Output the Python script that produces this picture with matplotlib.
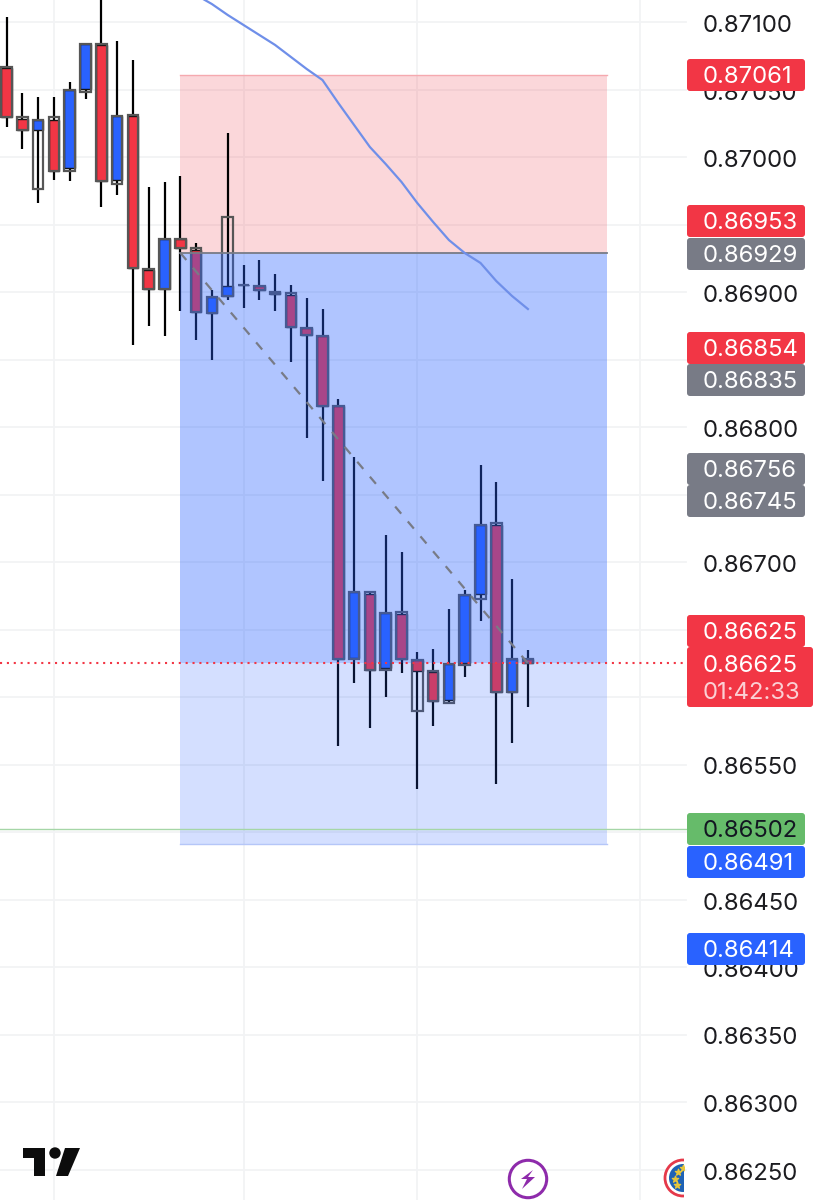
import matplotlib
matplotlib.use("Agg")
import matplotlib.pyplot as plt
from matplotlib.patches import Rectangle, FancyBboxPatch, Circle, Polygon
from matplotlib.transforms import ScaledTranslation

plt.rcParams["font.family"] = ["Inter", "DejaVu Sans"]

# candle values, left to right
highs = [0.871037, 0.870474, 0.870444, 0.870444, 0.870556, 0.870844, 0.871250, 0.870859, 0.870719, 0.869778,
         0.869815, 0.869859, 0.869363, 0.869015, 0.870178, 0.869200, 0.869237, 0.869133, 0.869052, 0.868956,
         0.868874, 0.868207, 0.867778, 0.866778, 0.867200, 0.867074, 0.866333, 0.866356, 0.866652, 0.866793,
         0.867719, 0.867593, 0.866874, 0.866348]
lows = [0.870222, 0.870059, 0.869659, 0.869830, 0.869822, 0.870430, 0.869630, 0.869719, 0.868607, 0.868748,
        0.868674, 0.868859, 0.868644, 0.868496, 0.868941, 0.868881, 0.868941, 0.868859, 0.868481, 0.867919,
        0.867600, 0.865637, 0.866104, 0.865770, 0.866000, 0.866178, 0.865319, 0.865785, 0.865956, 0.866148,
        0.866563, 0.865356, 0.865659, 0.865926]
# coloured body
fill_hi = [0.870659, 0.870281, 0.870274, 0.870274, 0.870496, 0.870837, 0.870830, 0.870304, 0.870304, 0.869163,
           0.869393, 0.869393, 0.869311, 0.868963, 0.869044, 0.869052, 0.869044, 0.869000, 0.868978, 0.868733,
           0.868674, 0.868156, 0.866778, 0.866763, 0.866622, 0.866615, 0.866274, 0.866185, 0.866244, 0.866756,
           0.867274, 0.867274, 0.866281, 0.866281]
fill_lo = [0.870296, 0.870200, 0.870200, 0.869896, 0.869919, 0.870504, 0.869822, 0.869830, 0.869178, 0.869022,
           0.869022, 0.869326, 0.868852, 0.868844, 0.868970, 0.869052, 0.869015, 0.868985, 0.868741, 0.868681,
           0.868156, 0.866281, 0.866289, 0.866200, 0.866215, 0.866281, 0.866193, 0.865970, 0.865978, 0.866252,
           0.866763, 0.866037, 0.866037, 0.866252]
# second candle series, only its outline shows
outline_hi = [0.870667, 0.870296, 0.870274, 0.870296, 0.870496, 0.870837, 0.870837, 0.870304, 0.870311, 0.869170,
              0.869393, 0.869393, 0.869326, 0.868963, 0.869556, 0.869052, 0.869044, 0.869000, 0.868993, 0.868733,
              0.868674, 0.868156, 0.866778, 0.866778, 0.866622, 0.866630, 0.866274, 0.866193, 0.866244, 0.866756,
              0.867274, 0.867289, 0.866281, 0.866281]
outline_lo = [0.870296, 0.870200, 0.869763, 0.869896, 0.869896, 0.870481, 0.869822, 0.869800, 0.869178, 0.869022,
              0.869022, 0.869326, 0.868852, 0.868844, 0.868970, 0.869052, 0.869015, 0.868985, 0.868741, 0.868681,
              0.868156, 0.866281, 0.866281, 0.866200, 0.866200, 0.866281, 0.865896, 0.865970, 0.865956, 0.866237,
              0.866726, 0.866037, 0.866037, 0.866252]
# r = red body, b = blue body
kinds = list("rrbrbbrbrrbrrbbbrrrrrrbrbrrrbbbrbr")

ma_idx = list(range(12, 34))
ma_vals = [0.871200, 0.871133, 0.871052, 0.870978, 0.870904, 0.870830, 0.870741, 0.870652, 0.870570, 0.870400,
           0.870237, 0.870074, 0.869948, 0.869815, 0.869659, 0.869519, 0.869385, 0.869289, 0.869215, 0.869081,
           0.868970, 0.868874]

stop_price = 0.87061
entry_price = 0.86929
last_price = 0.86625
target_price = 0.86491
green_price = 0.86502
pos_start = 11
pos_end = 38
last_idx = 33

y_ticks = [0.871, 0.8705, 0.87, 0.8695, 0.869, 0.8685, 0.868, 0.8675, 0.867, 0.8665, 0.866, 0.8655, 0.865,
           0.8645, 0.864, 0.8635, 0.863, 0.8625]
grid_idx = [3, 15, 26, 40.1]

tag_texts = ["0.87061", "0.86953", "0.86929", "0.86854", "0.86835", "0.86756", "0.86745", "0.86625",
             "0.86502", "0.86491", "0.86414"]
tag_kinds = ["red", "red", "gray", "red", "gray", "gray", "gray", "red", "green", "blue", "blue"]
tag_y_px = [75, 221, 254, 348, 380, 469, 501, 631, 829, 862, 949]

RED = "#f23645"
BLUE = "#2962ff"
GRID = "#f2f3f5"
FONT_SIZE = 17.2
tag_colors = {"red": RED, "gray": "#787b86", "green": "#66bb6a", "blue": BLUE}

W, H = 822, 1200
PX_X0, PX_STEP = 6.5, 15.8


def main():
    fig = plt.figure(figsize=(W / 100, H / 100), dpi=100, facecolor="white")
    ax = fig.add_axes([0, 0, 1, 1])
    ax.set_xlim(-PX_X0 / PX_STEP, (W - PX_X0) / PX_STEP)
    ax.set_ylim(0.87 - (H - 157) / 135000, 0.87 + 157 / 135000)
    for s in ax.spines.values():
        s.set_visible(False)
    ax.set_xticks([])

    ax.yaxis.tick_right()
    ax.set_yticks(y_ticks)
    ax.set_yticklabels([f"{t:.5f}" for t in y_ticks])
    ax.tick_params(axis="y", length=0, pad=-85.7, labelsize=FONT_SIZE, labelcolor="#1c1c20")
    nudge = ScaledTranslation(0, -1.5 / 100, fig.dpi_scale_trans)
    for tick in ax.yaxis.get_major_ticks():
        tick.label2.set_transform(tick.label2.get_transform() + nudge)

    line_end = 686 / W
    for t in y_ticks:
        ax.axhline(t, xmax=line_end, color=GRID, lw=1.3, zorder=1)
    for g in grid_idx:
        ax.axvline(g, color=GRID, lw=1.3, zorder=1)

    # short position box, red part under the candles
    ax.add_patch(Rectangle((pos_start, entry_price), pos_end - pos_start, stop_price - entry_price,
                           fc="#ee3a48", alpha=0.2, ec="none", zorder=2))
    ax.plot([pos_start, pos_end], [stop_price, stop_price], color="#f5a9af", lw=1, zorder=2)

    for i in range(len(highs)):
        ax.plot([i, i], [lows[i], highs[i]], color="black", lw=1.6, zorder=3, solid_capstyle="butt")
        c = RED if kinds[i] == "r" else BLUE
        ax.add_patch(Rectangle((i - 0.33, fill_lo[i]), 0.66, fill_hi[i] - fill_lo[i],
                               fc=c, ec="#141414", lw=1.0, zorder=4))
        ax.add_patch(Rectangle((i - 0.33, outline_lo[i]), 0.66, outline_hi[i] - outline_lo[i],
                               fc="none", ec="#565656", lw=1.6, zorder=5))

    # blue part sits on top of the candles, so red bodies turn purple
    ax.add_patch(Rectangle((pos_start, last_price), pos_end - pos_start, entry_price - last_price,
                           fc=BLUE, alpha=0.37, ec="none", zorder=6))
    ax.add_patch(Rectangle((pos_start, target_price), pos_end - pos_start, last_price - target_price,
                           fc=BLUE, alpha=0.2, ec="none", zorder=6))
    ax.plot([pos_start, pos_end], [target_price, target_price], color="#b5c6f8", lw=1, zorder=6)
    ax.plot([pos_start, pos_end], [entry_price, entry_price], color="#787b86", lw=1.3, zorder=7)
    ax.plot([pos_start, last_idx], [entry_price, last_price], color="#787b86", lw=1.6,
            dashes=(4.2, 4.6), zorder=7)

    ax.axhline(green_price, xmax=line_end, color="#a5d6a7", lw=1.0, zorder=7)
    ax.axhline(last_price, xmax=line_end, color=RED, lw=1.5, dashes=(1, 2.3), zorder=8)
    ax.plot(ma_idx, ma_vals, color="#6f8fe9", lw=1.6, zorder=7)

    # price tags and logos are placed in screen pixels
    ov = fig.add_axes([0, 0, 1, 1], zorder=5)
    ov.set_xlim(0, W)
    ov.set_ylim(H, 0)
    ov.axis("off")

    for txt, k, y in zip(tag_texts, tag_kinds, tag_y_px):
        ov.add_patch(FancyBboxPatch((687, y - 16), 118, 32, boxstyle="round,pad=0,rounding_size=3",
                                    fc=tag_colors[k], ec="none"))
        ov.text(703, y + 2, txt, color="#131722" if k == "green" else "white", fontsize=FONT_SIZE,
                va="center", ha="left")

    ov.add_patch(FancyBboxPatch((687, 647), 126, 60, boxstyle="round,pad=0,rounding_size=3", fc=RED, ec="none"))
    ov.text(703, 666, "0.86625", color="white", fontsize=FONT_SIZE, va="center", ha="left")
    ov.text(703, 693, "01:42:33", color="#fbd0d4", fontsize=FONT_SIZE, va="center", ha="left")

    # TradingView logo
    ov.add_patch(Polygon([(23, 1148), (45, 1148), (45, 1176), (34, 1176), (34, 1158), (23, 1158)], fc="#0c0c0c"))
    ov.add_patch(Circle((55, 1153), 5.7, fc="#0c0c0c"))
    ov.add_patch(Polygon([(65, 1148), (80, 1148), (68, 1176), (56, 1176)], fc="#0c0c0c"))

    # bolt icon
    ov.add_patch(Circle((528, 1179), 18.7, fc="white", ec="#8e2bab", lw=2.2))
    ov.add_patch(Polygon([(533, 1170), (521, 1179), (527, 1179), (522, 1189), (535, 1177), (528, 1177)],
                         fc="#8e2bab"))

    # flag icon cut off by the price scale
    clip = Rectangle((600, 1140), 84, 60, transform=ov.transData)
    flag_ring = Circle((683, 1178), 18, fc="white", ec="#e5394a", lw=2)
    flag_blue = Circle((683, 1178), 14, fc="#1f62b5", ec="none")
    ov.add_patch(flag_ring)
    ov.add_patch(flag_blue)
    flag_ring.set_clip_path(clip)
    flag_blue.set_clip_path(clip)
    stars = ov.scatter([678, 675, 677, 683], [1172, 1179, 1185, 1168], marker="*", s=22, color="#e8c63a", zorder=4)
    stars.set_clip_path(clip)

    fig.savefig("out.png", dpi=100)
    plt.close(fig)


if __name__ == "__main__":
    main()
